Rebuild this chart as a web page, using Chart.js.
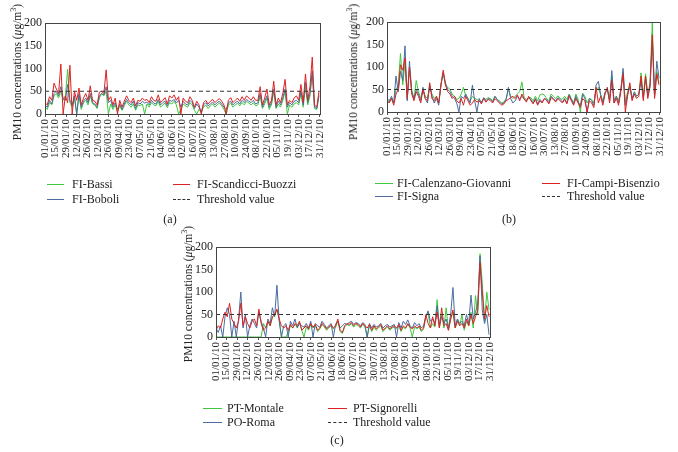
<!DOCTYPE html>
<html><head><meta charset="utf-8">
<script src="https://cdn.jsdelivr.net/npm/chart.js@4/dist/chart.umd.min.js"></script>
<style>
body{margin:0;width:678px;height:452px;background:#fff;position:relative;overflow:hidden;font-family:"Liberation Serif","Times New Roman",serif;color:#222}
canvas{position:absolute}
.yt{position:absolute;white-space:nowrap;font-size:11.5px;transform:translate(-50%,-50%) rotate(-90deg)}
.lg{position:absolute;font-size:12px;white-space:nowrap;line-height:14px}
.ln{position:absolute;height:1px}
.dl{position:absolute;height:0;border-top:1px dashed #333}
.cap{position:absolute;font-size:12px;transform:translate(-50%,-50%)}
</style></head>
<body>
<canvas id="ca" width="335" height="165" style="left:0;top:0"></canvas>
<canvas id="cb" width="330" height="165" style="left:345px;top:0"></canvas>
<canvas id="cc" width="330" height="170" style="left:175px;top:225px"></canvas>
<script>
// x tick labels (every 14 days, 2010)
const tickLabels = ["01/01/10","15/01/10","29/01/10","12/02/10","26/02/10","12/03/10","26/03/10","09/04/10","23/04/10","07/05/10","21/05/10","04/06/10","18/06/10","02/07/10","16/07/10","30/07/10","13/08/10","27/08/10","10/09/10","24/09/10","08/10/10","22/10/10","05/11/10","19/11/10","03/12/10","17/12/10","31/12/10"];
const THRESHOLD = 50;
const STEP = 3; // days between samples

// Panel (a)
const namesA = ["FI-Bassi","FI-Boboli","FI-Scandicci-Buozzi"];
const fiBassi = [15,10,25,20,40,45,35,50,30,40, 98,25,15,35,0,40,10,25,30,20, 40,22,20,12,35,45,40,50,0,22, 10,20,5,18,8,18,28,20,15,22, 8,20,18,22,0,22,15,25,20,18, 28,15,20,24,14,25,22,28,20,0, 10,22,18,15,25,20,8,0,10,3, 15,20,12,18,22,15,20,24,18,10, 0,20,24,15,20,24,18,25,20,28, 24,20,25,18,20,40,12,22,35,10, 20,50,12,22,15,30,50,0,20,15, 22,25,20,45,15,60,20,40,90,12, 10,45];
const fiBoboli = [20,15,30,22,45,50,40,60,35,30, 65,30,20,40,0,45,15,28,35,25, 45,25,22,15,40,45,42,60,25,30, 15,25,10,22,10,22,32,25,20,28, 12,25,22,28,24,26,20,30,24,22, 32,20,25,28,18,30,28,32,24,30, 15,28,22,20,30,25,12,22,15,5, 20,25,18,22,26,20,25,28,22,15, 10,25,28,20,25,28,22,30,25,32, 28,25,30,22,25,45,15,28,40,15, 25,55,15,28,20,35,55,15,25,20, 28,30,25,50,20,70,25,45,95,15, 12,40];
const fiScandicci = [25,20,38,30,68,55,45,110,0,40, 25,107,0,50,30,57,20,35,45,30, 62,30,28,20,48,50,45,97,30,38, 20,35,0,30,15,28,40,30,25,35, 18,30,28,35,30,32,25,38,30,28, 42,25,30,36,22,40,35,42,30,38, 0,35,28,25,38,30,15,28,20,0, 25,30,22,28,32,25,30,34,28,20, 0,30,36,25,30,35,28,38,30,40, 35,30,38,30,30,60,20,35,55,20, 30,72,20,35,25,45,76,20,30,25, 35,40,30,65,25,88,30,60,125,20, 15,50];

// Panel (b)
const namesB = ["FI-Calenzano-Giovanni","FI-Signa","FI-Campi-Bisenzio"];
const fiCalenzano = [28,22,30,20,50,60,130,60,110,28, 95,50,28,70,45,30,50,35,30,55, 40,30,35,20,60,85,60,55,50,40, 35,28,30,40,55,35,30,25,35,30, 28,25,22,30,28,32,30,25,35,28, 25,20,22,30,50,35,30,35,40,45, 67,32,28,30,32,25,35,25,38,40, 38,30,25,40,35,30,36,30,28,35, 28,40,30,20,40,28,0,42,35,20, 30,28,20,50,55,38,25,42,50,30, 80,25,35,25,50,90,20,45,60,30, 42,35,40,87,35,85,40,65,200,35, 90,65];
const fiSigna = [30,25,35,20,80,45,90,70,147,25, 113,45,30,50,40,25,55,30,20,60, 35,20,30,15,62,88,65,50,45,35, 30,20,0,35,30,40,30,20,60,25, 0,30,20,32,25,30,28,22,35,28, 22,18,20,28,55,30,20,25,35,28, 35,28,25,32,28,20,30,18,28,22, 30,28,20,35,30,25,32,28,22,30, 20,38,28,18,35,22,15,40,30,0, 30,25,15,60,68,40,20,45,50,25, 92,20,35,20,50,97,15,40,55,30, 45,35,40,70,30,75,35,55,160,35, 113,75];
const fiCampi = [25,20,30,15,40,50,105,93,120,30, 100,40,25,45,35,20,50,30,25,65, 30,25,35,20,60,93,60,45,40,30, 35,25,20,30,15,35,25,15,20,28, 22,25,18,30,22,28,25,20,30,25, 20,15,18,25,28,32,35,30,38,25, 40,30,22,35,25,18,28,15,25,20, 30,25,18,32,28,22,30,25,20,28, 18,35,25,15,30,20,10,30,25,0, 25,20,10,55,20,35,15,40,55,20, 70,20,30,15,45,85,0,35,65,25, 40,30,35,80,25,80,30,60,172,30, 85,60];

// Panel (c)
const namesC = ["PT-Montale","PO-Roma","PT-Signorelli"];
const ptMontale = [0,0,0,0,0,0,0,0,0,0, 0,0,0,0,0,0,0,0,0,0, 0,30,20,35,25,45,48,60,40,0, 0,0,10,25,20,28,22,32,15,0, 22,15,28,20,25,12,18,28,22,15, 20,25,18,22,35,12,8,22,28,25, 30,22,28,25,20,28,22,0,25,12, 22,15,20,25,12,18,22,15,20,22, 18,25,12,22,18,28,20,0,22,18, 22,12,18,45,55,20,30,22,83,20, 50,20,65,15,40,55,20,40,25,50, 15,35,25,55,20,92,50,185,120,35, 100,60];
const poRoma = [20,10,25,0,45,65,50,0,35,0, 40,100,20,50,0,25,40,30,20,55, 35,20,0,40,30,65,45,115,35,0, 25,30,0,35,25,40,20,30,25,22, 30,20,35,0,30,25,22,35,28,20, 25,30,0,28,35,20,25,30,28,32, 35,28,32,30,25,32,28,0,30,20, 28,22,25,30,20,25,28,22,25,28, 0,32,20,35,28,38,25,20,32,25, 30,20,25,45,58,35,40,30,70,25, 45,30,40,20,50,110,25,40,30,35, 25,50,30,93,40,55,75,180,60,30, 50,5];
const ptSignorelli = [15,25,20,40,55,45,75,40,30,20, 35,75,25,45,30,20,35,40,25,62, 30,15,20,35,25,45,50,62,40,25, 20,25,15,28,20,30,25,35,15,20, 25,18,30,22,28,15,20,30,25,18, 22,28,20,25,40,15,10,25,30,28, 32,25,30,28,22,30,25,20,28,15, 25,18,22,28,15,20,25,18,22,25, 20,28,15,25,20,30,22,18,25,20, 25,15,20,50,30,20,45,25,55,20, 65,25,30,15,40,60,20,35,25,30, 20,40,25,50,30,45,60,165,100,40, 70,45];

const COLORS = ['#3fc83f','#4a6c9f','#dc2222'];
const FONT = "'Liberation Serif','Times New Roman',serif";

const boxPlugin = {id:'box', afterDatasetsDraw(c){const a=c.chartArea,x=c.ctx;x.save();x.strokeStyle='#444';x.lineWidth=1;x.strokeRect(Math.round(a.left)+0.5,Math.round(a.top)+0.5,Math.round(a.right-a.left),Math.round(a.bottom-a.top));x.restore();}};

function build(p){
  const ds=[{label:'Threshold value',data:[{x:0,y:THRESHOLD},{x:364,y:THRESHOLD}],borderColor:'#333',borderDash:[4,3],borderWidth:1}];
  for(let k=p.series.length-1;k>=0;k--){
    const s=p.series[k];
    ds.push({label:p.names[k],data:s.map((v,i)=>({x:i*STEP,y:v})),borderColor:COLORS[k],borderWidth:1});
  }
  new Chart(document.getElementById(p.id),{
    type:'line',data:{datasets:ds},plugins:[boxPlugin],
    options:{responsive:false,animation:false,devicePixelRatio:1,
      layout:{padding:{left:0,right:p.padR,top:p.padT,bottom:0}},
      plugins:{legend:{display:false},tooltip:{enabled:false}},
      elements:{point:{radius:0},line:{tension:0}},
      scales:{
        x:{type:'linear',min:0,max:364,afterFit:s=>{s.height=p.xH;},
          ticks:{stepSize:14,autoSkip:false,maxRotation:90,minRotation:90,font:{family:FONT,size:11},color:'#222',padding:2,
            callback:v=>tickLabels[Math.round(v/14)]||''},
          grid:{drawOnChartArea:false,tickLength:3,color:'#555'},border:{display:false}},
        y:{min:0,max:200,afterFit:s=>{s.width=p.yW;},
          ticks:{stepSize:50,font:{family:FONT,size:12},color:'#222',padding:3},
          grid:{display:false,drawTicks:false,tickLength:0},border:{display:false}}
      }}
  });
}
build({id:'ca',series:[fiBassi,fiBoboli,fiScandicci],names:namesA,yW:45,xH:51,padT:23,padR:8});
build({id:'cb',series:[fiCalenzano,fiSigna,fiCampi],names:namesB,yW:42,xH:53,padT:22,padR:8});
build({id:'cc',series:[ptMontale,poRoma,ptSignorelli],names:namesC,yW:41,xH:58,padT:22,padR:8});

// HTML y titles, legends, captions
function add(html,cls,style){const d=document.createElement('div');d.className=cls;d.innerHTML=html;Object.assign(d.style,style);document.body.appendChild(d);return d;}
const ytitle='PM10 concentrations (<i>μ</i>g/m<sup style="font-size:8px">3</sup>)';
[[16,72],[352,72],[187,294]].forEach(([x,y])=>add(ytitle,'yt',{left:x+'px',top:y+'px'}));

function legend(names,L){
  const items=[[names[0],COLORS[0],L.x1,L.t1,L.y1],[names[1],COLORS[1],L.x1,L.t1,L.y2],
               [names[2],COLORS[2],L.x2,L.t2,L.y1],['Threshold value',null,L.x2,L.t2,L.y2]];
  items.forEach(([n,c,lx,tx,y])=>{
    if(c) add('','ln',{left:lx+'px',top:y+'px',width:L.w+'px',background:c});
    else add('','dl',{left:lx+'px',top:y+'px',width:L.w+'px'});
    add(n,'lg',{left:tx+'px',top:(y-7)+'px'});
  });
  add(L.cap,'cap',{left:L.cx+'px',top:L.cy+'px'});
}
legend(namesA,{x1:47,t1:72,x2:173,t2:197,y1:184,y2:199,w:17,cap:'(a)',cx:170,cy:219});
legend(namesB,{x1:375,t1:397,x2:542,t2:567,y1:183,y2:196,w:18,cap:'(b)',cx:509,cy:219});
legend(namesC,{x1:203,t1:227,x2:328,t2:353,y1:408,y2:422,w:19,cap:'(c)',cx:337,cy:440});
</script>
</body></html>
